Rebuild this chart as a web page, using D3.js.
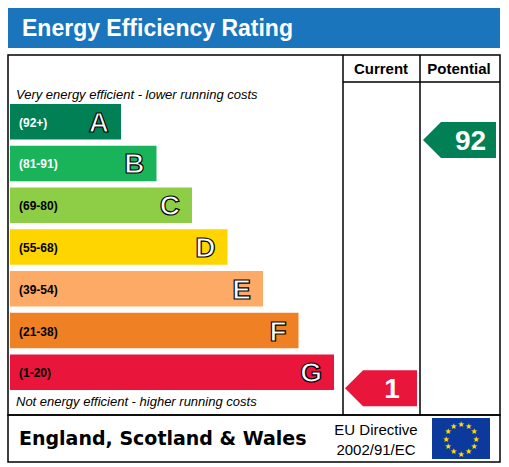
<!DOCTYPE html>
<html><head><meta charset="utf-8">
<script src="https://cdn.jsdelivr.net/npm/d3@7"></script>
<style>body{margin:0;background:#fff}</style>
</head><body>
<script>
var bands = ["A","B","C","D","E","F","G"];
var ranges = ["(92+)","(81-91)","(69-80)","(55-68)","(39-54)","(21-38)","(1-20)"];
var colors = ["#008054","#19b459","#8dce46","#ffd500","#fcaa65","#ef8023","#e9153b"];
var lengths = [1,2,3,4,5,6,7];
var currentValue = 1, currentBand = "G";
var potentialValue = 92, potentialY = 140;

var svg = d3.select("body").append("svg").attr("width",509).attr("height",467);

svg.append("rect").attr("x",8).attr("y",8).attr("width",492).attr("height",40).attr("fill","#1a75bc");
svg.append("text").attr("x",22).attr("y",36).text("Energy Efficiency Rating")
  .attr("fill","#fff").attr("font-family","Arial, Liberation Sans").attr("font-weight","bold").attr("font-size",23);

var box = svg.append("g").attr("fill","none").attr("stroke","#000").attr("stroke-width",1.5);
box.append("rect").attr("x",8).attr("y",55).attr("width",492).attr("height",360);
box.append("line").attr("x1",343).attr("x2",343).attr("y1",55).attr("y2",415);
box.append("line").attr("x1",420).attr("x2",420).attr("y1",55).attr("y2",415);
box.append("line").attr("x1",343).attr("x2",500).attr("y1",82).attr("y2",82);
box.append("rect").attr("x",8).attr("y",415).attr("width",492).attr("height",47);

var font = "Arial, Liberation Sans";
svg.append("text").attr("x",381).attr("y",74).attr("text-anchor","middle").text("Current").attr("font-family",font).attr("font-weight","bold").attr("font-size",15);
svg.append("text").attr("x",459).attr("y",74).attr("text-anchor","middle").text("Potential").attr("font-family",font).attr("font-weight","bold").attr("font-size",15);
svg.append("text").attr("x",16).attr("y",99).text("Very energy efficient - lower running costs").attr("font-family",font).attr("font-style","italic").attr("font-size",13);
svg.append("text").attr("x",16).attr("y",406).text("Not energy efficient - higher running costs").attr("font-family",font).attr("font-style","italic").attr("font-size",13);

var y = d3.scaleBand().domain(bands).range([104,390]).paddingInner(0.15);
var w = d3.scaleLinear().domain([1,7]).range([111,324]);

var g = svg.selectAll(".band").data(bands).enter().append("g");
g.append("rect").attr("x",10).attr("y",function(d){return y(d);})
  .attr("width",function(d,i){return w(lengths[i]);}).attr("height",y.bandwidth())
  .attr("fill",function(d,i){return colors[i];});
g.append("text").attr("x",19).attr("y",function(d){return y(d)+y.bandwidth()/2+5;})
  .text(function(d,i){return ranges[i];}).attr("font-family",font).attr("font-weight","bold").attr("font-size",12)
  .attr("fill",function(d,i){return i<2?"#fff":"#000";});
g.append("text").attr("x",function(d,i){return 10+w(lengths[i])-12;}).attr("y",function(d){return y(d)+y.bandwidth()/2+10;})
  .attr("text-anchor","end").text(function(d){return d;})
  .attr("font-family",font).attr("font-weight","bold").attr("font-size",28)
  .attr("fill","#fff").attr("stroke","#000").attr("stroke-width",1.2);

function arrow(x0,x1,cy,h,col,val){
  var p=[[x0,cy],[x0+h/2,cy-h/2],[x1,cy-h/2],[x1,cy+h/2],[x0+h/2,cy+h/2]];
  svg.append("polygon").attr("points",p.join(" ")).attr("fill",col);
  svg.append("text").attr("x",(x0+h/2+x1)/2+2).attr("y",cy+10).attr("text-anchor","middle").text(val)
    .attr("fill","#fff").attr("font-family",font).attr("font-weight","bold").attr("font-size",28);
}
var gi = bands.indexOf(currentBand);
arrow(345,417,y(currentBand)+y.bandwidth()/2+16,36,colors[gi],currentValue);
arrow(423,496,potentialY,36,colors[0],potentialValue);

svg.append("text").attr("x",19).attr("y",445).text("England, Scotland & Wales").attr("font-family","DejaVu Sans").attr("font-weight","bold").attr("font-size",19);
svg.append("text").attr("x",376).attr("y",435).attr("text-anchor","middle").text("EU Directive").attr("font-family",font).attr("font-size",15);
svg.append("text").attr("x",376).attr("y",455).attr("text-anchor","middle").text("2002/91/EC").attr("font-family",font).attr("font-size",15);
svg.append("rect").attr("x",432).attr("y",418).attr("width",58).attr("height",41).attr("fill","#0b3a9c");
var stars = d3.range(12).map(function(i){var a=i*Math.PI/6;return [461+15*Math.cos(a),438.5+15*Math.sin(a)];});
svg.selectAll(".star").data(stars).enter().append("text").attr("x",function(d){return d[0];}).attr("y",function(d){return d[1]+3;})
  .attr("text-anchor","middle").text("★").attr("fill","#ffdd00").attr("font-size",8).attr("font-family","DejaVu Sans");
</script>
</body></html>
